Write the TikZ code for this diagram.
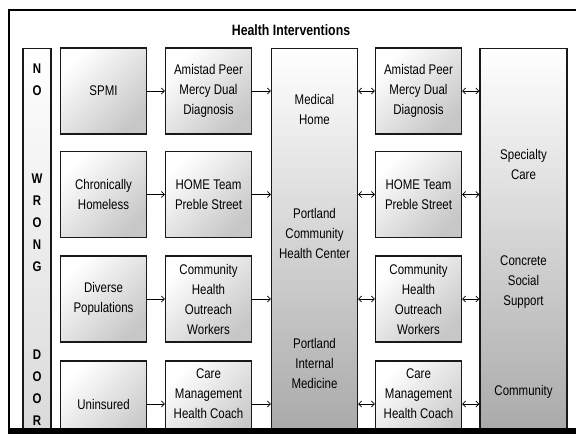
\documentclass[tikz,border=0pt]{standalone}
\usepackage{fontspec}
\setmainfont[FakeStretch=0.82]{Liberation Sans}
\usetikzlibrary{arrows.meta}

\begin{document}
\begin{tikzpicture}[x=1pt,y=-1pt,font=\fontsize{14}{20}\selectfont,
  box/.style={draw=black!90,line width=1.1pt,align=center,inner sep=2pt,
    minimum width=86pt,minimum height=86pt,
    top color=white,bottom color=black!22,shading angle=45},
  col/.style={draw=black!90,line width=1.1pt,anchor=north,minimum width=86pt,minimum height=400pt,
    top color=white,bottom color=black!35},
  nwd/.style={draw=black!90,line width=1.1pt,anchor=north,align=center,
    minimum width=28pt,minimum height=392pt,inner sep=0pt,
    top color=white,bottom color=black!15,font=\bfseries\fontsize{14}{22}\selectfont},
  txt/.style={align=center,inner sep=1pt},
  ar/.style={-{Straight Barb[length=3pt,width=6pt]},thick},
  dar/.style={{Straight Barb[length=3pt,width=6pt]}-{Straight Barb[length=3pt,width=6pt]},thick}]
\clip (0,0) rectangle (576,434);
% outer frame
\draw[line width=2pt] (9,434) |- (576,10);
\node[font=\bfseries\fontsize{15}{18}\selectfont] (title) at (291,30) {Health Interventions};
% left banner
\node[nwd] (door) at (37,48) {N\\O\\[66pt]W\\R\\O\\N\\G\\[66pt]D\\O\\O\\R};
% entry groups
\node[box] (spmi) at (103.5,91)  {SPMI};
\node[box] (homeless) at (103.5,194.5) {Chronically\\Homeless};
\node[box] (diverse) at (103.5,299) {Diverse\\Populations};
\node[box] (uninsured) at (103.5,404) {Uninsured};
% programs, first column
\node[box] (amistad) at (208.5,91) {Amistad Peer\\Mercy Dual\\Diagnosis};
\node[box] (hometeam) at (208.5,194.5) {HOME Team\\Preble Street};
\node[box] (chow) at (208.5,299) {Community\\Health\\Outreach\\Workers};
\node[box] (coach) at (208.5,404) {Care\\Management\\Health Coach\\\mbox{}};
% medical home column
\node[col] (med) at (314.5,48) {};
\node[txt] (medhome) at (314.5,109) {Medical\\Home};
\node[txt] (pchc) at (314.5,233) {Portland\\Community\\Health Center};
\node[txt] (pim) at (314.5,363) {Portland\\Internal\\Medicine};
% programs, second column
\node[box] (amistadR) at (418.5,91) {Amistad Peer\\Mercy Dual\\Diagnosis};
\node[box] (hometeamR) at (418.5,194.5) {HOME Team\\Preble Street};
\node[box] (chowR) at (418.5,299) {Community\\Health\\Outreach\\Workers};
\node[box] (coachR) at (418.5,404) {Care\\Management\\Health Coach\\\mbox{}};
% support column
\node[col,minimum width=87pt] (supp) at (523.5,48) {};
\node[txt] (specialty) at (523.5,164) {Specialty\\Care};
\node[txt] (concrete) at (523.5,282) {Concrete\\Social\\Support};
\node[txt] (community) at (523.5,392) {Community};
% arrows into the medical home
\draw[ar] (spmi) -- (amistad);
\draw[ar] (homeless) -- (hometeam);
\draw[ar] (diverse) -- (chow);
\draw[ar] (uninsured) -- (coach);
\draw[ar] (amistad.east) -- (amistad.east -| med.west);
\draw[ar] (hometeam.east) -- (hometeam.east -| med.west);
\draw[ar] (chow.east) -- (chow.east -| med.west);
\draw[ar] (coach.east) -- (coach.east -| med.west);
% two-way links
\draw[dar] (amistadR.west -| med.east) -- (amistadR.west);
\draw[dar] (hometeamR.west -| med.east) -- (hometeamR.west);
\draw[dar] (chowR.west -| med.east) -- (chowR.west);
\draw[dar] (coachR.west -| med.east) -- (coachR.west);
\draw[dar] (amistadR.east) -- (amistadR.east -| supp.west);
\draw[dar] (hometeamR.east) -- (hometeamR.east -| supp.west);
\draw[dar] (chowR.east) -- (chowR.east -| supp.west);
\draw[dar] (coachR.east) -- (coachR.east -| supp.west);
% bottom edge
\fill (9,428) rectangle (576,434);
\end{tikzpicture}
\end{document}
